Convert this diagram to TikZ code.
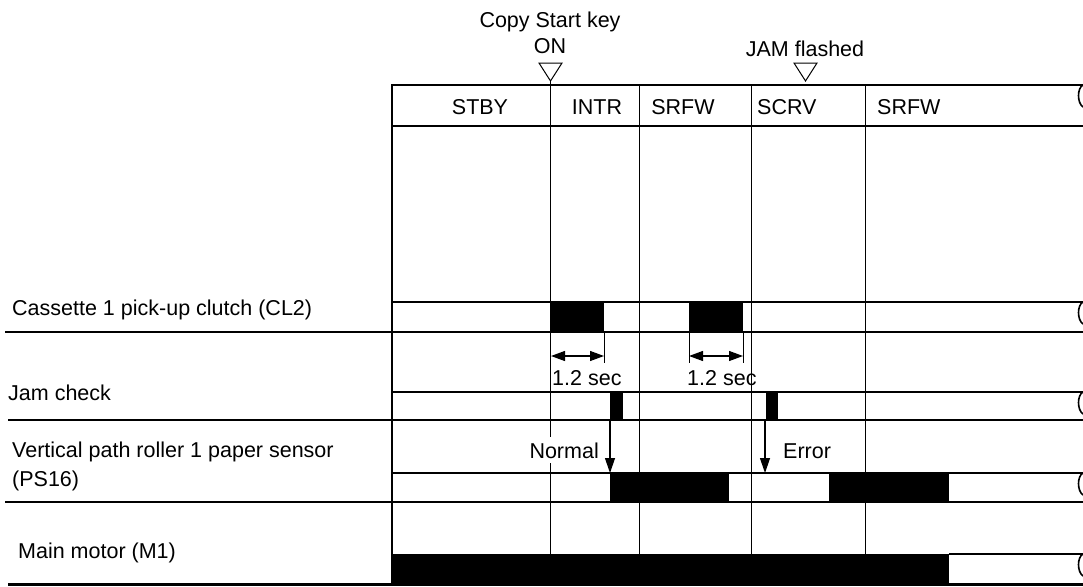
\documentclass[tikz,border=0pt]{standalone}
\usepackage{fontspec}
\setmainfont{Liberation Sans}
\usetikzlibrary{arrows.meta}
\begin{document}
\begin{tikzpicture}[x=1pt,y=-1pt,
  lbl/.style={font=\fontsize{21.5}{25}\selectfont, inner sep=0pt},
  rowline/.style={line width=2.2pt},
  frameline/.style={line width=2.6pt},
  tline/.style={line width=1pt},
  pulse/.style={fill=black},
  dimarr/.style={line width=1.2pt, {Triangle[length=14pt,width=10pt]}-{Triangle[length=14pt,width=10pt]}},
  downarr/.style={line width=1.2pt, -{Triangle[length=15pt,width=10pt]}},
  trimark/.style={line width=1pt},
  brk/.style={line width=1.6pt},
]
\useasboundingbox (0,0) rectangle (1083,586);

% time lines
\draw[tline] (550,81) -- (550,554);
\draw[tline] (639,85) -- (639,554);
\draw[tline] (751,85) -- (751,554);
\draw[tline] (865,85) -- (865,554);

% top markers
\node[lbl] (copy) at (550,22) {Copy Start key};
\node[lbl] (on) at (550,46) {ON};
\draw[trimark] (539,63) -- (562,63) -- (550.5,81) -- cycle;
\node[lbl] (jam) at (805,49) {JAM flashed};
\draw[trimark] (794,63) -- (817,63) -- (805.5,81) -- cycle;

% header row
\draw[rowline] (392,85) -- (1083,85);
\draw[rowline] (392,126) -- (1083,126);
\node[lbl] (h1) at (480,107) {STBY};
\node[lbl] (h2) at (597,107) {INTR};
\node[lbl] (h3) at (683,107) {SRFW};
\node[lbl,anchor=west] (h4) at (757,107) {SCRV};
\node[lbl,anchor=west] (h5) at (877,107) {SRFW};

% CL2 row
\fill[pulse] (550,302) rectangle (604,332);
\fill[pulse] (689,302) rectangle (743,332);
\draw[rowline] (392,302) -- (1083,302);
\draw[rowline] (5,332) -- (1083,332);
\node[lbl,anchor=base west] (l1) at (12,315) {Cassette 1 pick-up clutch (CL2)};

% dimension marks
\draw[tline] (604,332) -- (604,363);
\draw[tline] (689,332) -- (689,363);
\draw[tline] (743,332) -- (743,363);
\coordinate (d1a) at (551,356);
\coordinate (d1b) at (604,356);
\coordinate (d2a) at (689,356);
\coordinate (d2b) at (743,356);
\draw[dimarr] (d1a) -- (d1b);
\draw[dimarr] (d2a) -- (d2b);
\node[lbl,anchor=base west] (s1) at (552,385) {1.2 sec};
\node[lbl,anchor=base west] (s2) at (687,385) {1.2 sec};

% Jam check row
\fill[pulse] (610,392) rectangle (623,420);
\fill[pulse] (766,392) rectangle (778,420);
\draw[rowline] (392,392) -- (1083,392);
\draw[rowline] (8,420) -- (1083,420);
\node[lbl,anchor=base west] (l2) at (8,400) {Jam check};

% arrows
\coordinate (a1) at (610,420);
\coordinate (a2) at (610,473);
\coordinate (b1) at (765,420);
\coordinate (b2) at (765,473);
\draw[downarr] (a1) -- (a2);
\draw[downarr] (b1) -- (b2);
\node[lbl,anchor=base east,fill=white,inner xsep=2pt,inner ysep=5pt] (nrm) at (601,458) {Normal};
\node[lbl,anchor=base west] (err) at (783,458) {Error};

% PS16 row
\fill[pulse] (610,473) rectangle (729,502);
\fill[pulse] (829,473) rectangle (949,502);
\draw[rowline] (392,473) -- (1083,473);
\draw[rowline] (5,502) -- (1083,502);
\node[lbl,anchor=base west] (l3) at (12,457) {Vertical path roller 1 paper sensor};
\node[lbl,anchor=base west] (l3b) at (12,486) {(PS16)};

% Main motor row
\fill[pulse] (392,554) rectangle (949,585);
\draw[rowline] (949,554) -- (1083,554);
\draw[rowline] (8,584.5) -- (1083,584.5);
\node[lbl,anchor=base west] (l4) at (18,558) {Main motor (M1)};

% left frame
\draw[frameline] (392,84) -- (392,585);

% break marks on right
\foreach \t in {85,302,392,473,554}{
  \draw[brk] (1083,\t) .. controls (1077,\t+3) and (1077,\t+18) .. (1083,\t+22);
}
\end{tikzpicture}
\end{document}
